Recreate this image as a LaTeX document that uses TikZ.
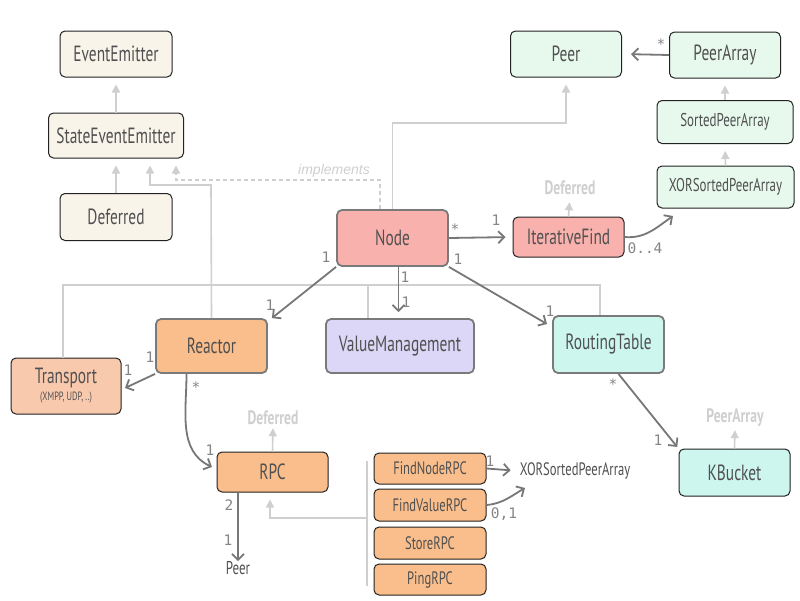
\documentclass[tikz,border=0pt]{standalone}
\usepackage{fontspec}
\setmainfont{PT Sans}[FakeStretch=0.7]
\newfontfamily\monof{DejaVu Sans Mono}
\newfontfamily\implf{Liberation Sans}
\usetikzlibrary{arrows.meta}
\definecolor{txt}{HTML}{505050}
\definecolor{cream}{HTML}{F8F4E9}
\definecolor{mint}{HTML}{E7F9ED}
\definecolor{pinkc}{HTML}{F9B1AD}
\definecolor{orng}{HTML}{F9BE8C}
\definecolor{peach}{HTML}{F9C9AE}
\definecolor{lav}{HTML}{DCD7F6}
\definecolor{teal}{HTML}{CDF6EE}
\definecolor{dkb}{HTML}{222222}
\definecolor{gyb}{HTML}{7A7A7A}
\definecolor{inhc}{HTML}{CFCFCF}
\definecolor{asc}{HTML}{777777}
\definecolor{lbl}{HTML}{858585}
\tikzset{
  box/.style={rectangle, rounded corners=5pt, draw=dkb, line width=1pt, text=txt, inner sep=0pt, font=\fontsize{22}{23}\selectfont},
  gbox/.style={box, draw=gyb, line width=1.8pt},
  inhline/.style={draw=inhc, line width=1.6pt},
  inh/.style={inhline, -{Triangle[length=8pt,width=8pt]}, shorten >=7pt},
  impl/.style={inh, dashed, dash pattern=on 4pt off 3pt},
  assoc/.style={draw=asc, line width=1.8pt, -{Straight Barb[length=6pt,width=12pt,line width=1.8pt]}},
  ghost/.style={text=inhc, inner sep=0pt, font=\fontsize{19.5}{20}\selectfont\bfseries},
  mult/.style={text=lbl, inner sep=0pt, font=\monof\fontsize{14.5}{15}\selectfont},
}
\begin{document}
\begin{tikzpicture}[x=1pt,y=-1pt]
\useasboundingbox[fill=white] (0,0) rectangle (800,600);
% boxes
\node[box, fill=cream, minimum width=112pt, minimum height=46pt] (EE) at (116,54) {EventEmitter};
\node[box, fill=cream, minimum width=135pt, minimum height=45pt] (SEE) at (116,135.5) {StateEventEmitter};
\node[box, fill=cream, minimum width=112pt, minimum height=47pt] (Def) at (116,217) {Deferred};
\node[box, fill=mint, minimum width=111pt, minimum height=46pt] (Peer) at (566,54) {Peer};
\node[box, fill=mint, minimum width=111pt, minimum height=46pt] (PA) at (725,55) {PeerArray};
\node[box, fill=mint, minimum width=136pt, minimum height=43pt, font=\fontsize{18.5}{19}\selectfont] (SPA) at (725,122) {SortedPeerArray};
\node[box, fill=mint, minimum width=137pt, minimum height=42pt, font=\fontsize{18.5}{19}\selectfont] (XOR) at (725.5,187) {XORSortedPeerArray};
\node[gbox, fill=pinkc, minimum width=111pt, minimum height=56pt] (Node) at (392.5,238) {Node};
\node[box, fill=pinkc, minimum width=111pt, minimum height=40pt] (IF) at (568.5,237) {IterativeFind};
\node[gbox, fill=orng, minimum width=111pt, minimum height=54pt] (Reactor) at (211.5,346) {Reactor};
\node[gbox, fill=lav, minimum width=148pt, minimum height=54pt] (VM) at (400,346) {ValueManagement};
\node[gbox, fill=teal, minimum width=111pt, minimum height=57pt] (RT) at (608.5,344.5) {RoutingTable};
\node[box, fill=peach, minimum width=110pt, minimum height=56pt, align=center] (Tr) at (66,386) {Transport\\[-6pt]{\fontsize{12}{13}\selectfont (XMPP, UDP, ..)}};
\node[box, fill=orng, minimum width=111pt, minimum height=40pt] (RPC) at (272.5,472) {RPC};
\node[box, fill=orng, minimum width=112pt, minimum height=31pt, font=\fontsize{18}{19}\selectfont] (FN) at (430,468.5) {FindNodeRPC};
\node[box, fill=orng, minimum width=112pt, minimum height=32pt, font=\fontsize{18}{19}\selectfont] (FV) at (430,505) {FindValueRPC};
\node[box, fill=orng, minimum width=112pt, minimum height=32pt, font=\fontsize{18}{19}\selectfont] (St) at (430,543) {StoreRPC};
\node[box, fill=orng, minimum width=112pt, minimum height=31pt, font=\fontsize{18}{19}\selectfont] (Ping) at (430,579.5) {PingRPC};
\node[box, fill=teal, minimum width=111pt, minimum height=47pt] (KB) at (734.5,472.5) {KBucket};
% ghost labels
\node[ghost] (DefIF) at (570,188) {Deferred};
\node[ghost] (DefRPC) at (273,418) {Deferred};
\node[ghost] (PAKB) at (735,418) {PeerArray};
\node[text=txt, inner sep=0pt, font=\fontsize{18.5}{19}\selectfont] (PeerT) at (238,568) {Peer};
\node[text=txt, inner sep=0pt, font=\fontsize{18}{19}\selectfont] (XORT) at (575,471) {XORSortedPeerArray};
\node[text=inhc, inner sep=0pt, font=\implf\itshape\fontsize{14}{15}\selectfont] (implT) at (334,171) {implements};
% coordinates
\coordinate (t1) at (211,185);
\coordinate (busL) at (63,285);
\coordinate (busR) at (600,285);
\coordinate (vmx) at (368,285);
\coordinate (imp) at (380,180);
\coordinate (np) at (566,123);
\coordinate (rt) at (367,461);
\coordinate (rb) at (367,586);
\coordinate (rm) at (367,518);
\coordinate (ifx) at (673,216);
\coordinate (fvx) at (525,488);
\coordinate (rtx) at (547,324);
\coordinate (trx) at (125,388);
\coordinate (rpx) at (212,467);
% inheritance
\draw[inh] (SEE.north) -- (EE.south);
\draw[inh] (Def.north) -- (SEE.south);
\draw[inh] (Reactor.north) -- (t1) -| ([xshift=34]SEE.south);
\draw[inhline] (Tr.north -| busL) -- (busL) -- (busR) -- (RT.north -| busR);
\draw[inhline] (vmx) -- (VM.north -| vmx);
\draw[impl] (imp |- Node.north) -- (imp) -| ([xshift=60]SEE.south);
\draw[inh] (Node.north) |- (np) -- (Peer.south);
\draw[inh] (SPA.north) -- (PA.south);
\draw[inh] (XOR.north) -- (SPA.south);
\draw[inh] (IF.north) -- (DefIF.south);
\draw[inh, shorten >=3pt] (RPC.north) -- (DefRPC.south);
\draw[inh, shorten >=3pt] (KB.north) -- (PAKB.south);
\draw[inhline] (rt) -- (rb);
\draw[inh] (rm) -| ([xshift=-2.5]RPC.south);
% associations
\draw[assoc, shorten >=9pt] (PA.west) -- (Peer.east);
\draw[assoc, shorten >=7pt] (Node.east) -- (IF.west);
\draw[assoc] (IF.east) to[out=-5, in=-145] (ifx);
\draw[assoc] (Node.south west) -- ([xshift=4pt]Reactor.north east);
\draw[assoc, shorten >=6pt] ([xshift=6pt]Node.south) -- ([xshift=6pt]Node.south |- VM.north);
\draw[assoc] (Node.south east) -- (rtx);
\draw[assoc] (Reactor.south west) -- (trx);
\draw[assoc] ([xshift=-25pt]Reactor.south) to[out=-90, in=155] (rpx);
\draw[assoc] ([xshift=-34.5pt]RPC.south) -- (PeerT.north);
\draw[assoc, shorten >=9pt] (FN.east) -- (XORT.west);
\draw[assoc] (FV.east) to[out=5, in=-150] (fvx);
\draw[assoc, shorten >=2pt] ([xshift=10pt]RT.south) -- (KB.north west);
% multiplicities
\node[mult] (m1) at (661,44) {*};
\node[mult] (m2) at (455,229) {*};
\node[mult] (m3) at (496,220) {1};
\node[mult] (m4) at (645,248) {0..4};
\node[mult] (m5) at (326,257) {1};
\node[mult] (m6) at (270,305) {1};
\node[mult] (m7) at (405,277) {1};
\node[mult] (m8) at (406,302) {1};
\node[mult] (m9) at (458,259) {1};
\node[mult] (m10) at (550,311) {1};
\node[mult] (m11) at (150,357) {1};
\node[mult] (m12) at (128,370) {1};
\node[mult] (m13) at (196,387) {*};
\node[mult] (m14) at (210,450) {1};
\node[mult] (m15) at (229,505) {2};
\node[mult] (m16) at (228,540) {1};
\node[mult] (m17) at (490,461) {1};
\node[mult] (m18) at (504,514) {0,1};
\node[mult] (m19) at (613,384) {*};
\node[mult] (m20) at (658,440) {1};
\end{tikzpicture}
\end{document}
